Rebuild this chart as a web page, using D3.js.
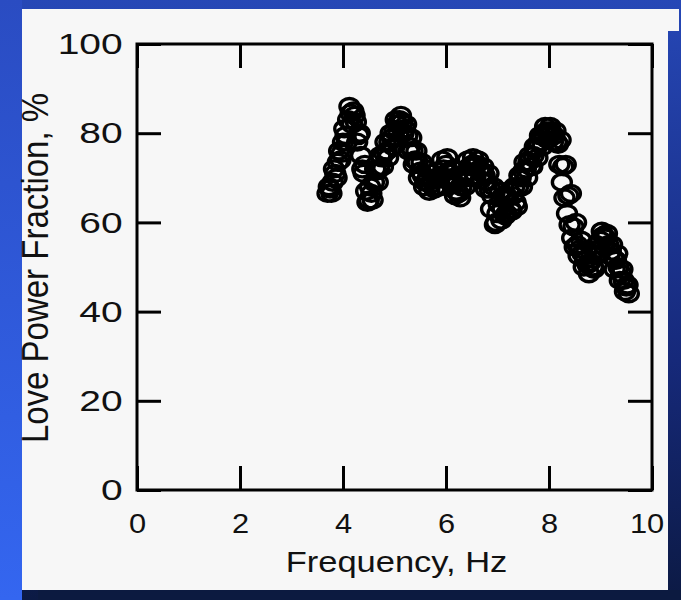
<!DOCTYPE html>
<html>
<head>
<meta charset="utf-8">
<script src="https://cdn.jsdelivr.net/npm/d3@7"></script>
<style>
    html, body { margin: 0; padding: 0; background: #0d1b4a; }
    svg { display: block; }
    text { font-family: "Liberation Sans", Arial, sans-serif; fill: #111; }
</style>
</head>
<body>
<div class="chart"></div>
<script>
// frequency (Hz) of each measured point, first pass
const frequency = [
    3.70, 3.75, 3.80, 3.85, 3.90, 3.95, 4.00, 4.05, 4.10, 4.15,
    4.20, 4.25, 4.30, 4.35, 4.40, 4.45, 4.50, 4.55, 4.60, 4.65,
    4.70, 4.75, 4.80, 4.85, 4.90, 4.95, 5.00, 5.05, 5.10, 5.15,
    5.20, 5.25, 5.30, 5.35, 5.40, 5.45, 5.50, 5.55, 5.60, 5.65,
    5.70, 5.75, 5.80, 5.85, 5.90, 5.95, 6.00, 6.05, 6.10, 6.15,
    6.20, 6.25, 6.30, 6.35, 6.40, 6.45, 6.50, 6.55, 6.60, 6.65,
    6.70, 6.75, 6.80, 6.85, 6.90, 6.95, 7.00, 7.05, 7.10, 7.15,
    7.20, 7.25, 7.30, 7.35, 7.40, 7.45, 7.50, 7.55, 7.60, 7.65,
    7.70, 7.75, 7.80, 7.85, 7.90, 7.95, 8.00, 8.05, 8.10, 8.15,
    8.20, 8.25, 8.30, 8.35, 8.40, 8.45, 8.50, 8.55, 8.60, 8.65,
    8.70, 8.75, 8.80, 8.85, 8.90, 8.95, 9.00, 9.05, 9.10, 9.15,
    9.20, 9.25, 9.30, 9.35, 9.40, 9.45, 9.50, 9.55
];
// love power fraction (%), first pass
const fraction = [
    66.5, 67.5, 69.0, 71.0, 73.5, 74.0, 78.0, 79.5, 83.0, 84.5,
    85.0, 82.5, 79.5, 75.0, 71.0, 67.0, 65.0, 66.5, 69.0, 71.5,
    72.0, 74.5, 75.5, 76.0, 78.0, 79.0, 80.5, 82.0, 83.0, 82.5,
    81.0, 79.5, 77.0, 76.0, 74.0, 73.5, 71.5, 70.5, 69.0, 70.0,
    68.5, 69.5, 68.0, 70.0, 70.5, 72.0, 73.0, 71.5, 70.0, 68.5,
    67.0, 66.5, 68.0, 70.0, 71.0, 72.5, 73.0, 72.5, 73.0, 72.0,
    71.0, 70.5, 69.0, 67.5, 66.0, 59.5, 62.0, 67.0, 63.0, 61.5,
    65.5, 63.0, 66.0, 64.5, 68.0, 70.0, 71.5, 72.0, 73.5, 72.5,
    75.0, 76.5, 78.0, 79.5, 80.0, 80.5, 80.5, 80.0, 79.5, 78.0,
    73.0, 69.0, 65.5, 62.0, 59.5, 56.5, 54.5, 55.0, 54.0, 53.0,
    51.5, 50.5, 51.0, 50.0, 52.5, 54.0, 56.0, 57.0, 56.5, 55.0,
    53.5, 52.0, 51.5, 50.0, 48.5, 47.0, 45.5, 44.0
];
// second pass, in between the first
const frequency2 = [
    3.725, 3.775, 3.825, 3.875, 3.925, 3.975, 4.025, 4.075, 4.125, 4.175,
    4.225, 4.275, 4.325, 4.375, 4.425, 4.475, 4.525, 4.575, 4.625, 4.675,
    4.725, 4.775, 4.825, 4.875, 4.925, 4.975, 5.025, 5.075, 5.125, 5.175,
    5.225, 5.275, 5.325, 5.375, 5.425, 5.475, 5.525, 5.575, 5.625, 5.675,
    5.725, 5.775, 5.825, 5.875, 5.925, 5.975, 6.025, 6.075, 6.125, 6.175,
    6.225, 6.275, 6.325, 6.375, 6.425, 6.475, 6.525, 6.575, 6.625, 6.675,
    6.725, 6.775, 6.825, 6.875, 6.925, 6.975, 7.025, 7.075, 7.125, 7.175,
    7.225, 7.275, 7.325, 7.375, 7.425, 7.475, 7.525, 7.575, 7.625, 7.675,
    7.725, 7.775, 7.825, 7.875, 7.925, 7.975, 8.025, 8.075, 8.125, 8.175,
    8.225, 8.275, 8.325, 8.375, 8.425, 8.475, 8.525, 8.575, 8.625, 8.675,
    8.725, 8.775, 8.825, 8.875, 8.925, 8.975, 9.025, 9.075, 9.125, 9.175,
    9.225, 9.275, 9.325, 9.375, 9.425, 9.475, 9.525
];
const fraction2 = [
    68.0, 66.5, 72.0, 70.0, 76.0, 75.5, 81.0, 78.0, 86.0, 82.0,
    84.0, 78.0, 80.0, 72.0, 73.0, 64.5, 68.0, 65.0, 72.0, 69.0,
    75.0, 72.5, 78.0, 74.5, 80.0, 77.0, 83.0, 80.0, 84.0, 80.0,
    82.0, 76.0, 79.0, 73.0, 76.0, 70.0, 73.5, 68.0, 72.0, 67.0,
    71.0, 67.5, 71.5, 68.0, 74.0, 70.0, 74.5, 69.0, 72.0, 66.0,
    69.5, 65.5, 70.5, 68.0, 74.0, 70.0, 74.5, 70.5, 74.0, 69.5,
    72.5, 67.5, 71.0, 63.0, 68.0, 60.0, 64.0, 60.5, 66.0, 62.0,
    67.0, 62.5, 68.0, 63.5, 70.5, 68.0, 73.5, 70.0, 75.0, 72.5,
    77.0, 74.5, 79.5, 77.0, 81.5, 78.5, 81.5, 78.0, 80.5, 77.5,
    78.5, 72.5, 73.0, 66.0, 66.5, 59.0, 60.0, 52.5, 56.0, 50.0,
    53.5, 48.5, 53.0, 49.5, 55.0, 53.0, 58.0, 54.5, 57.5, 52.5,
    55.0, 49.5, 53.0, 47.0, 49.5, 44.5, 46.0
];
const xTicks = [0, 2, 4, 6, 8, 10];
const yTicks = [0, 20, 40, 60, 80, 100];

const width = 681,
    height = 600,
    plot = { left: 137, right: 652, top: 44, bottom: 490 };

const svg = d3.select('.chart')
    .append('svg')
    .attr('width', width)
    .attr('height', height);

// blue slide background
const defs = svg.append('defs');
const bg = defs.append('linearGradient')
    .attr('id', 'bg')
    .attr('x1', 0).attr('y1', 0).attr('x2', 0).attr('y2', 1);
bg.append('stop').attr('offset', 0).attr('stop-color', '#2647b6');
bg.append('stop').attr('offset', 0.6).attr('stop-color', '#16297a');
bg.append('stop').attr('offset', 1).attr('stop-color', '#0c1a44');
const side = defs.append('linearGradient')
    .attr('id', 'side')
    .attr('x1', 0).attr('y1', 0).attr('x2', 0).attr('y2', 1);
side.append('stop').attr('offset', 0).attr('stop-color', '#2a4cc2');
side.append('stop').attr('offset', 1).attr('stop-color', '#3466f0');

svg.append('rect').attr('width', width).attr('height', height).attr('fill', 'url(#bg)');
svg.append('rect').attr('width', 22).attr('height', height).attr('fill', 'url(#side)');
svg.append('rect').attr('x', 38).attr('y', 590).attr('width', width - 38).attr('height', 10).attr('fill', '#0c1a40');

// white figure panel
svg.append('rect').attr('x', 22).attr('y', 9).attr('width', 646).attr('height', 581).attr('fill', '#f7f7f7');
svg.append('rect').attr('x', 660).attr('y', 9).attr('width', 19).attr('height', 22).attr('fill', '#f7f7f7');

const x = d3.scaleLinear().domain([0, 10]).range([plot.left, plot.right]);
const y = d3.scaleLinear().domain([0, 100]).range([plot.bottom, plot.top]);

const tick = 24;

function styleAxis(g) {
    g.select('.domain').remove();
    g.selectAll('line').attr('stroke', '#000').attr('stroke-width', 3);
}

svg.append('g')
    .attr('transform', `translate(0,${plot.bottom})`)
    .call(d3.axisBottom(x).tickValues(xTicks).tickSizeInner(-tick).tickSizeOuter(0).tickPadding(23))
    .call(styleAxis)
    .call(g => g.selectAll('text')
        .attr('font-size', 28)
        .attr('transform', 'scale(1.1,1)'))
    // last label sits a little inside the panel edge
    .call(g => g.selectAll('text').filter(d => d === 10).attr('x', -5));

svg.append('g')
    .attr('transform', `translate(0,${plot.top})`)
    .call(d3.axisTop(x).tickValues(xTicks).tickSizeInner(-tick).tickSizeOuter(0).tickFormat(''))
    .call(styleAxis);

svg.append('g')
    .attr('transform', `translate(${plot.left},0)`)
    .call(d3.axisLeft(y).tickValues(yTicks).tickSizeInner(-tick).tickSizeOuter(0).tickPadding(11))
    .call(styleAxis)
    .call(g => g.selectAll('text')
        .attr('font-size', 30)
        .attr('transform', 'scale(1.3,1)'));

svg.append('g')
    .attr('transform', `translate(${plot.right},0)`)
    .call(d3.axisRight(y).tickValues(yTicks).tickSizeInner(-tick).tickSizeOuter(0).tickFormat(''))
    .call(styleAxis);

// plot frame
svg.append('rect')
    .attr('x', plot.left)
    .attr('y', plot.top)
    .attr('width', plot.right - plot.left)
    .attr('height', plot.bottom - plot.top)
    .attr('fill', 'none')
    .attr('stroke', '#000')
    .attr('stroke-width', 3);

// open circle markers, slightly wider than tall like the scanned figure
const points = frequency.map((f, i) => ({ f, v: fraction[i] }))
    .concat(frequency2.map((f, i) => ({ f, v: fraction2[i] })));
svg.append('g')
    .selectAll('ellipse')
    .data(points)
    .join('ellipse')
    .attr('cx', d => x(d.f))
    .attr('cy', d => y(d.v))
    .attr('rx', 9.5)
    .attr('ry', 8)
    .attr('fill', 'none')
    .attr('stroke', '#000')
    .attr('stroke-width', 3.4);

// axis titles
svg.append('text')
    .attr('transform', `translate(${(plot.left + plot.right) / 2 + 2},572) scale(1.15,1)`)
    .attr('text-anchor', 'middle')
    .attr('font-size', 30)
    .text('Frequency, Hz');

svg.append('text')
    .attr('transform', 'translate(48,268) scale(1.12,1) rotate(-90)')
    .attr('text-anchor', 'middle')
    .attr('font-size', 33)
    .text('Love Power Fraction, %');
</script>
</body>
</html>
